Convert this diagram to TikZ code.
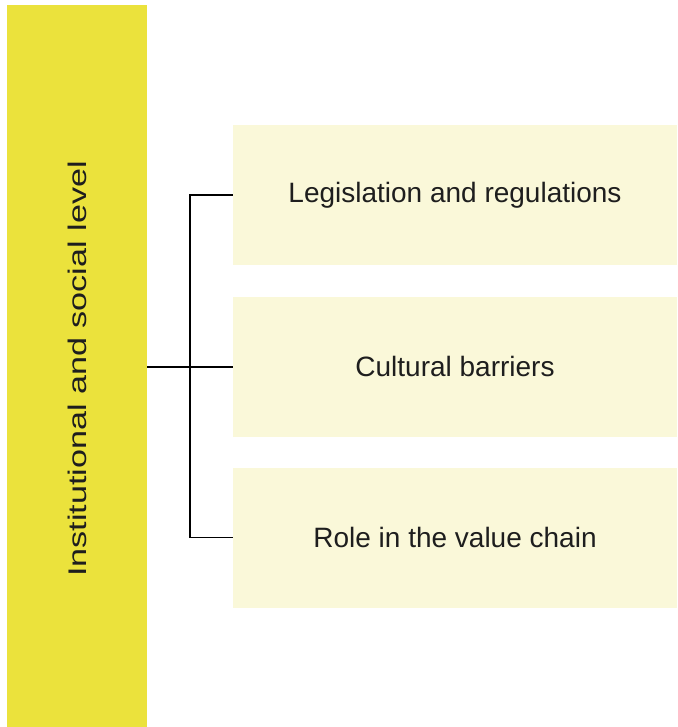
\documentclass[tikz,border=0pt]{standalone}
\usepackage{fontspec}
\usepackage{graphicx}
\setmainfont{Liberation Sans}
\definecolor{baryellow}{HTML}{EBE23C}
\definecolor{boxfill}{HTML}{FAF8D9}
\definecolor{txt}{HTML}{1E1E1E}
\begin{document}
\begin{tikzpicture}[x=1pt,y=-1pt,
  itembox/.style={fill=boxfill,draw=none,minimum width=444pt,minimum height=140pt,inner sep=0pt,font=\fontsize{28}{32}\selectfont,text=txt},
  conn/.style={draw=black,line width=1.5pt}]
\useasboundingbox (0,0) rectangle (677,727);
\fill[white] (0,0) rectangle (677,727);
\node[fill=baryellow,minimum width=140.5pt,minimum height=722pt,inner sep=0pt] (bar) at (76.75,366) {};
\node[rotate=90,font=\fontsize{25.5}{30}\selectfont,text=txt,anchor=center] (bartext) at (77,369) {\scalebox{1.34}[1]{Institutional and social level}};
\node[itembox] (b1) at (455,195) {Legislation and regulations};
\node[itembox] (b2) at (455,366.5) {Cultural barriers};
\node[itembox] (b3) at (455,537.5) {Role in the value chain};
\coordinate (j) at (190,367);
\draw[conn,line width=2.5pt] (bar.east |- j) -- (j);
\draw[conn] (b1.west) -| (j) |- (b3.west);
\draw[conn] (j) -- (b2.west |- j);
\end{tikzpicture}
\end{document}
